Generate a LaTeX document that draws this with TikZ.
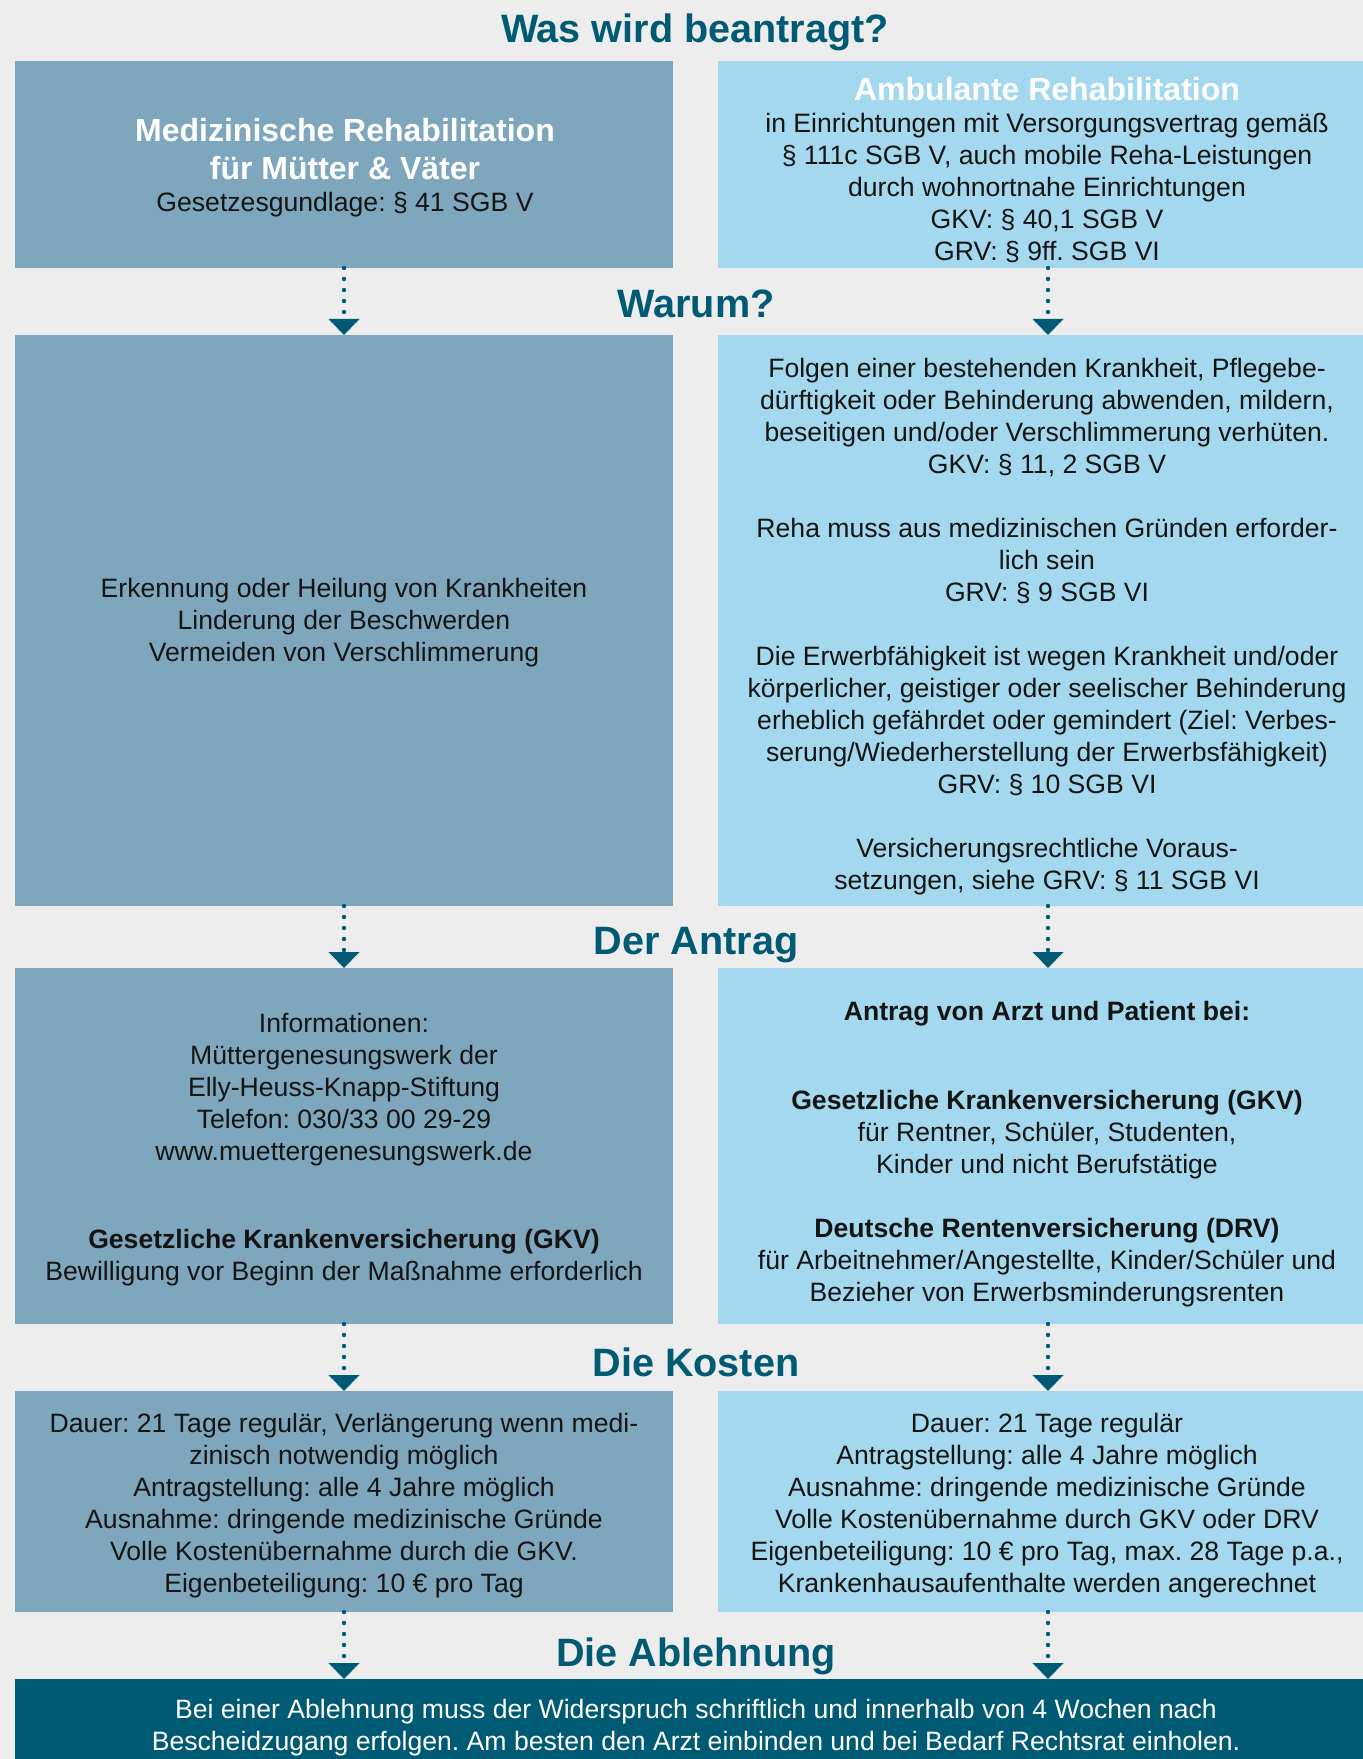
\documentclass[tikz,border=0pt]{standalone}
\usepackage{fontspec}
\setmainfont{Liberation Sans}
\frenchspacing
\usetikzlibrary{arrows.meta}
\definecolor{bg}{HTML}{EDEDED}
\definecolor{lcol}{HTML}{7EA7BE}
\definecolor{rcol}{HTML}{A3D8EF}
\definecolor{dark}{HTML}{005A73}
\definecolor{txt}{HTML}{141414}
\begin{document}
\begin{tikzpicture}[x=0.5pt,y=-0.5pt,
  box/.style={inner sep=0pt, outer sep=0pt, anchor=north west},
  lbox/.style={box, fill=lcol, minimum width=329pt},
  rbox/.style={box, fill=rcol, minimum width=330pt},
  head/.style={font=\fontsize{19.8}{24}\selectfont\bfseries, text=dark, anchor=base, inner sep=0pt},
  btxt/.style={font=\fontsize{13.3}{16}\selectfont\frenchspacing, text=txt, align=center, inner sep=0pt},
  ttl/.style={font=\fontsize{16}{19}\selectfont\bfseries, text=white, align=center, inner sep=0pt},
  arr/.style={draw=dark, line width=2.2pt, line cap=round, dash pattern=on 0pt off 5.5pt,
    -{Triangle[width=15pt,length=8pt,fill=dark]}}
]
\useasboundingbox (0,0) rectangle (1363,1759);
\fill[bg] (0,0) rectangle (1363,1759);

% boxes
\node[lbox, minimum height=103.5pt] (lb1) at (15,61) {};
\node[rbox, minimum height=103.5pt] (rb1) at (718,61) {};
\node[lbox, minimum height=285.5pt] (lb2) at (15,335) {};
\node[rbox, minimum height=285.5pt] (rb2) at (718,335) {};
\node[lbox, minimum height=178pt] (lb3) at (15,968) {};
\node[rbox, minimum height=178pt] (rb3) at (718,968) {};
\node[lbox, minimum height=110.5pt] (lb4) at (15,1391) {};
\node[rbox, minimum height=110.5pt] (rb4) at (718,1391) {};
\node[box, fill=dark, minimum width=681.5pt, minimum height=50pt] (bot) at (15,1679) {};

% headings
\node[head] (h1) at (695,43) {Was wird beantragt?};
\node[head] (h2) at (696,318) {Warum?};
\node[head] (h3) at (696,954) {Der Antrag};
\node[head] (h4) at (696,1376) {Die Kosten};
\node[head] (h5) at (696,1666) {Die Ablehnung};

% arrows
\draw[arr] (lb1.south) -- (lb2.north);
\draw[arr] (rb1.south) -- (rb2.north);
\draw[arr] (lb2.south) -- (lb3.north);
\draw[arr] (rb2.south) -- (rb3.north);
\draw[arr] (lb3.south) -- (lb4.north);
\draw[arr] (rb3.south) -- (rb4.north);
\draw[arr] (lb4.south) -- (lb4.south |- bot.north);
\draw[arr] (rb4.south) -- (rb4.south |- bot.north);

% row 1
\node[ttl] (lt1) at (345,149) {Medizinische Rehabilitation\\für Mütter \& Väter};
\node[btxt, anchor=base] (lb1b) at (345,212) {Gesetzesgundlage: § 41 SGB V};
\node[ttl, anchor=base] (rt1) at (1047,101) {Ambulante Rehabilitation};
\node[btxt] (rb1b) at (1047,188) {in Einrichtungen mit Versorgungsvertrag gemäß\\§ 111c SGB V, auch mobile Reha-Leistungen\\durch wohnortnahe Einrichtungen\\GKV: § 40,1 SGB V\\GRV: § 9ff. SGB VI};

% row 2
\node[btxt] (lb2t) at (344,623) {Erkennung oder Heilung von Krankheiten\\Linderung der Beschwerden\\Vermeiden von Verschlimmerung};
\node[btxt] (rb2t) at (1047,627) {Folgen einer bestehenden Krankheit, Pflegebe-\\dürftigkeit oder Behinderung abwenden, mildern,\\beseitigen und/oder Verschlimmerung verhüten.\\GKV: § 11, 2 SGB V\\[16pt]Reha muss aus medizinischen Gründen erforder-\\lich sein\\GRV: § 9 SGB VI\\[16pt]Die Erwerbfähigkeit ist wegen Krankheit und/oder\\körperlicher, geistiger oder seelischer Behinderung\\erheblich gefährdet oder gemindert (Ziel: Verbes-\\serung/Wiederherstellung der Erwerbsfähigkeit)\\GRV: § 10 SGB VI\\[16pt]Versicherungsrechtliche Voraus-\\setzungen, siehe GRV: § 11 SGB VI};

% row 3
\node[btxt] (lb3t) at (344,1150) {Informationen:\\Müttergenesungswerk der\\Elly-Heuss-Knapp-Stiftung\\Telefon: 030/33 00 29-29\\www.muettergenesungswerk.de\\[28pt]\textbf{Gesetzliche Krankenversicherung (GKV)}\\Bewilligung vor Beginn der Maßnahme erforderlich};
\node[btxt] (rb3t) at (1047,1154) {\textbf{Antrag von Arzt und Patient bei:}\\[28.5pt]\textbf{Gesetzliche Krankenversicherung (GKV)}\\für Rentner, Schüler, Studenten,\\Kinder und nicht Berufstätige\\[16pt]\textbf{Deutsche Rentenversicherung (DRV)}\\für Arbeitnehmer/Angestellte, Kinder/Schüler und\\Bezieher von Erwerbsminderungsrenten};

% row 4
\node[btxt] (lb4t) at (344,1506) {Dauer: 21 Tage regulär, Verlängerung wenn medi-\\zinisch notwendig möglich\\Antragstellung: alle 4 Jahre möglich\\Ausnahme: dringende medizinische Gründe\\Volle Kostenübernahme durch die GKV.\\Eigenbeteiligung: 10 € pro Tag};
\node[btxt] (rb4t) at (1047,1506) {Dauer: 21 Tage regulär\\Antragstellung: alle 4 Jahre möglich\\Ausnahme: dringende medizinische Gründe\\Volle Kostenübernahme durch GKV oder DRV\\Eigenbeteiligung: 10 € pro Tag, max. 28 Tage p.a.,\\Krankenhausaufenthalte werden angerechnet};

% bottom
\node[btxt, text=white] (bt) at (696,1728) {Bei einer Ablehnung muss der Widerspruch schriftlich und innerhalb von 4 Wochen nach\\Bescheidzugang erfolgen. Am besten den Arzt einbinden und bei Bedarf Rechtsrat einholen.};
\end{tikzpicture}
\end{document}
